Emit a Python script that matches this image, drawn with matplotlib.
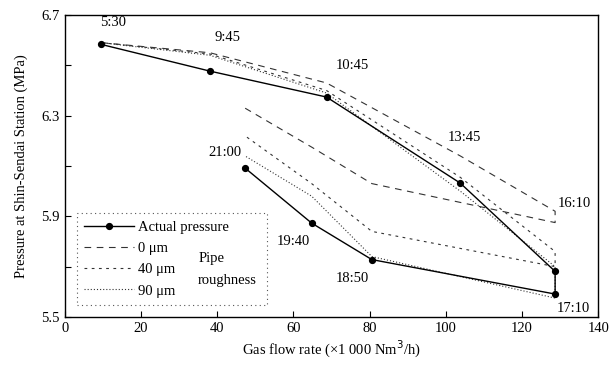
import matplotlib
matplotlib.use("Agg")
import matplotlib.pyplot as plt
from matplotlib.lines import Line2D

plt.rcParams['font.family'] = ['Liberation Serif', 'DejaVu Serif']

# Data: time points in order of the day
times = ['5:30', '9:45', '10:45', '13:45', '16:10', '17:10', '18:50', '19:40', '21:00']
flow = [9.6, 38.1, 68.7, 103.8, 128.7, 128.7, 80.6, 64.8, 47.3]
actual = [6.583, 6.477, 6.374, 6.032, 5.681, 5.591, 5.728, 5.873, 6.092]
sim_0um = [6.59, 6.55, 6.43, 6.14, 5.92, 5.875, 6.03, 6.175, 6.33]
sim_40um = [6.59, 6.545, 6.40, 6.055, 5.76, 5.70, 5.84, 6.03, 6.22]
sim_90um = [6.59, 6.54, 6.39, 6.00, 5.70, 5.575, 5.74, 5.98, 6.14]

# label positions (data coords)
label_x = [12.6, 42.8, 75.4, 105.0, 133.7, 133.4, 75.4, 59.9, 42.0]
label_y = [6.672, 6.612, 6.50, 6.214, 5.95, 5.533, 5.652, 5.80, 6.154]

xticks = [0, 20, 40, 60, 80, 100, 120, 140]
yticks_major = [5.5, 5.9, 6.3, 6.7]
yticks_all = [5.5, 5.7, 5.9, 6.1, 6.3, 6.5, 6.7]

fig = plt.figure(figsize=(6.11, 3.66), dpi=100)
ax = fig.add_axes([0.106, 0.134, 0.873, 0.825])

ax.plot(flow, sim_0um, color='#333333', lw=0.8, dashes=(6, 5))
ax.plot(flow, sim_40um, color='#333333', lw=0.8, dashes=(2.5, 4))
ax.plot(flow, sim_90um, color='#333333', lw=0.8, dashes=(1, 1.8))
ax.plot(flow, actual, color='black', lw=1.0, marker='o', markersize=4.2)

for t, lx, ly in zip(times, label_x, label_y):
    ax.text(lx, ly, t, ha='center', va='center', fontsize=10.5)

ax.set_xlim(0, 140)
ax.set_ylim(5.5, 6.7)
ax.set_xticks(xticks)
ax.set_xticklabels([str(v) for v in xticks])
ax.set_yticks(yticks_all)
ax.set_yticklabels([('%.1f' % v) if v in yticks_major else '' for v in yticks_all])
ax.tick_params(direction='in', length=4, width=0.8, labelsize=10.5)
for s in ax.spines.values():
    s.set_linewidth(1.0)

ax.set_xlabel('Gas flow rate (\u00d71 000 Nm$^3$/h)', fontsize=10.5, labelpad=3)
ax.set_ylabel('Pressure at Shin-Sendai Station (MPa)', fontsize=10.5, labelpad=10)

handles = [
    Line2D([], [], color='black', lw=1.0, marker='o', markersize=4.2),
    Line2D([], [], color='#333333', lw=0.8, dashes=(6, 5)),
    Line2D([], [], color='#333333', lw=0.8, dashes=(2.5, 4)),
    Line2D([], [], color='#333333', lw=0.8, dashes=(1, 1.8)),
]
labels = ['Actual pressure', '0 \u03bcm', '40 \u03bcm', '90 \u03bcm']
leg = ax.legend(handles, labels, loc='lower left',
                bbox_to_anchor=(0.0225, 0.04, 0.356, 0.3), mode='expand',
                borderaxespad=0,
                fontsize=10.5, handlelength=3.4, labelspacing=0.55,
                handletextpad=0.3, borderpad=0.5, fancybox=False,
                framealpha=1, edgecolor='#555555')
leg.get_frame().set_linestyle((0, (1, 3)))
leg.get_frame().set_linewidth(0.8)
leg.set_zorder(4)

ax.text(0.25, 0.192, 'Pipe', transform=ax.transAxes, fontsize=10.5,
        va='center', ha='left', zorder=10)
ax.text(0.25, 0.122, 'roughness', transform=ax.transAxes, fontsize=10.5,
        va='center', ha='left', zorder=10)

fig.savefig('out.png', dpi=100)
